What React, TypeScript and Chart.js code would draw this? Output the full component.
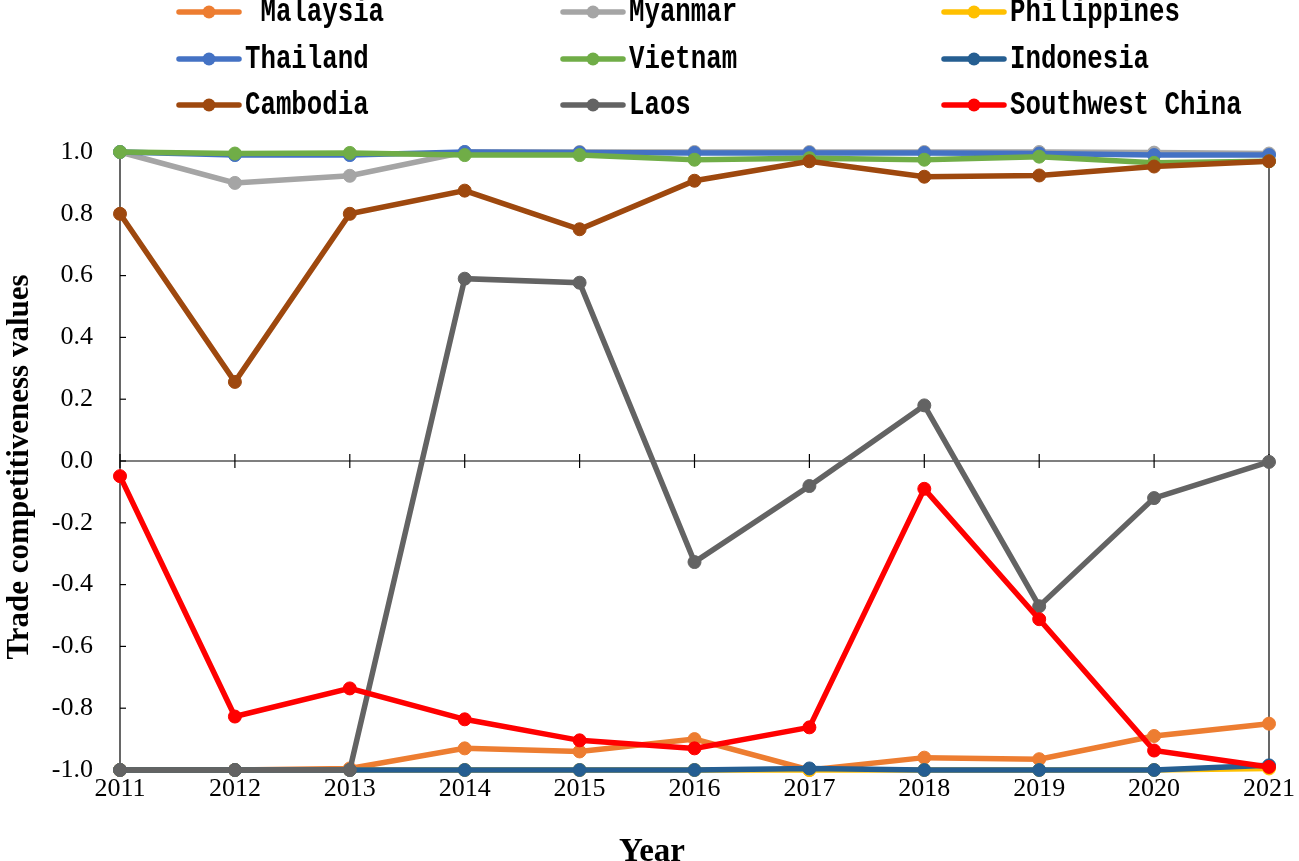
import React, { useEffect, useRef } from "react";
import { Chart, registerables } from "chart.js";

Chart.register(...registerables);

const years = ["2011", "2012", "2013", "2014", "2015", "2016", "2017", "2018", "2019", "2020", "2021"];
const yTickValues = [-1, -0.8, -0.6, -0.4, -0.2, 0, 0.2, 0.4, 0.6, 0.8, 1];

const malaysia = [-1, -1, -0.995, -0.93, -0.94, -0.9, -1.0, -0.96, -0.965, -0.89, -0.85];
const myanmar = [1.0, 0.9, 0.923, 1.0, 1.0, 1.0, 1.0, 1.0, 1.0, 0.998, 0.995];
const philippines = [-1, -1, -1, -1, -1, -1, -1, -1, -1, -1, -0.995];
const thailand = [1.0, 0.99, 0.99, 1.0, 0.998, 0.997, 0.997, 0.997, 0.995, 0.99, 0.99];
const vietnam = [1.0, 0.995, 0.997, 0.99, 0.99, 0.975, 0.98, 0.975, 0.985, 0.965, 0.97];
const indonesia = [-1, -1, -1, -1, -1, -1, -0.995, -1, -1, -1, -0.985];
const cambodia = [0.8, 0.256, 0.8, 0.875, 0.75, 0.907, 0.97, 0.92, 0.924, 0.953, 0.97];
const laos = [-1, -1, -1, 0.59, 0.577, -0.327, -0.081, 0.18, -0.47, -0.12, -0.003];
const swChina = [-0.049, -0.827, -0.736, -0.836, -0.904, -0.93, -0.862, -0.09, -0.512, -0.937, -0.99];

const seriesNames = [" Malaysia", "Myanmar", "Philippines", "Thailand", "Vietnam", "Indonesia", "Cambodia", "Laos", "Southwest China"];
const seriesData = [malaysia, myanmar, philippines, thailand, vietnam, indonesia, cambodia, laos, swChina];
const seriesColors = ["#ED7D31", "#A5A5A5", "#FFC000", "#4472C4", "#70AD47", "#255E91", "#9E480E", "#636363", "#FF0000"];

const legendColX = [179, 563, 944];
const legendRowY = [12, 59, 105];

const decorPlugin = {
  id: "decor",
  beforeDatasetsDraw(chart: any) {
    const ctx = chart.ctx;
    const x = chart.scales.x;
    const y = chart.scales.y;
    const ca = chart.chartArea;
    ctx.save();
    ctx.strokeStyle = "#000";
    ctx.lineWidth = 1.2;
    ctx.beginPath();
    ctx.moveTo(ca.left, y.getPixelForValue(1));
    ctx.lineTo(ca.left, y.getPixelForValue(-1));
    ctx.stroke();
    ctx.beginPath();
    ctx.moveTo(ca.right, y.getPixelForValue(1));
    ctx.lineTo(ca.right, y.getPixelForValue(-1));
    ctx.stroke();
    yTickValues.forEach((v) => {
      const py = y.getPixelForValue(v);
      ctx.beginPath();
      ctx.moveTo(ca.left, py);
      ctx.lineTo(ca.left + 6, py);
      ctx.stroke();
    });
    const zy = y.getPixelForValue(0);
    ctx.beginPath();
    ctx.moveTo(ca.left, zy);
    ctx.lineTo(ca.right, zy);
    ctx.stroke();
    years.forEach((_, i) => {
      const px = x.getPixelForValue(i);
      ctx.beginPath();
      ctx.moveTo(px, zy - 7);
      ctx.lineTo(px, zy + 7);
      ctx.stroke();
    });
    ctx.restore();
  },
  afterDraw(chart: any) {
    const ctx = chart.ctx;
    ctx.save();
    seriesNames.forEach((name, i) => {
      const col = i % 3;
      const row = Math.floor(i / 3);
      const lx = legendColX[col];
      const ly = legendRowY[row];
      ctx.strokeStyle = seriesColors[i];
      ctx.lineWidth = 5.5;
      ctx.lineCap = "round";
      ctx.beginPath();
      ctx.moveTo(lx, ly);
      ctx.lineTo(lx + 60, ly);
      ctx.stroke();
      ctx.fillStyle = seriesColors[i];
      ctx.beginPath();
      ctx.arc(lx + 30, ly, 6.5, 0, Math.PI * 2);
      ctx.fill();
      ctx.fillStyle = "#000";
      ctx.font = 'bold 33px "Liberation Mono"';
      ctx.textBaseline = "middle";
      ctx.textAlign = "left";
      ctx.save();
      ctx.translate(lx + 66, ly + 1);
      ctx.scale(0.78, 1);
      ctx.fillText(name, 0, 0);
      ctx.restore();
    });
    ctx.fillStyle = "#000";
    ctx.font = 'bold 33px "Liberation Serif"';
    ctx.textAlign = "center";
    ctx.textBaseline = "alphabetic";
    ctx.fillText("Year", 652, 861);
    ctx.save();
    ctx.font = 'bold 31px "Liberation Serif"';
    ctx.translate(28, 467);
    ctx.rotate(-Math.PI / 2);
    ctx.fillText("Trade competitiveness values", 0, 0);
    ctx.restore();
    ctx.restore();
  },
};

export default function App() {
  const canvasRef = useRef<HTMLCanvasElement | null>(null);

  useEffect(() => {
    document.body.style.margin = "0";
    const canvas = canvasRef.current;
    if (!canvas) return;
    const n = seriesNames.length;
    const chart = new Chart(canvas, {
      type: "line",
      data: {
        labels: years,
        datasets: seriesData.map((d, i) => ({
          label: seriesNames[i].trim(),
          data: d,
          borderColor: seriesColors[i],
          backgroundColor: seriesColors[i],
          pointBackgroundColor: seriesColors[i],
          pointBorderColor: seriesColors[i],
          borderWidth: 5.5,
          pointRadius: 6.5,
          pointBorderWidth: 1,
          tension: 0,
          clip: false as any,
          order: n - 1 - i,
        })),
      },
      plugins: [decorPlugin],
      options: {
        responsive: false,
        animation: false,
        events: [],
        layout: { padding: { left: 0, right: 25, top: 152, bottom: 0 } },
        plugins: {
          legend: { display: false },
          tooltip: { enabled: false },
          title: { display: false },
        },
        scales: {
          x: {
            type: "category",
            offset: false,
            grid: { display: false, drawTicks: false },
            border: { display: false },
            ticks: {
              color: "#000",
              font: { family: "Liberation Serif", size: 26 },
              padding: 4,
              maxRotation: 0,
              autoSkip: false,
            },
            afterFit: (s: any) => {
              s.height = 91;
            },
          },
          y: {
            min: -1,
            max: 1,
            grid: { display: false, drawTicks: false },
            border: { display: false },
            afterBuildTicks: (s: any) => {
              s.ticks = yTickValues.map((v) => ({ value: v }));
            },
            ticks: {
              color: "#000",
              font: { family: "Liberation Serif", size: 26 },
              padding: 27,
              callback: (v: any) => (Math.abs(Number(v)) < 1e-9 ? 0 : Number(v)).toFixed(1),
            },
            afterFit: (s: any) => {
              s.width = 120;
            },
          },
        },
      },
    });
    return () => chart.destroy();
  }, []);

  return (
    <div style={{ width: 1299, height: 861 }}>
      <canvas ref={canvasRef} width={1299} height={861} />
    </div>
  );
}
